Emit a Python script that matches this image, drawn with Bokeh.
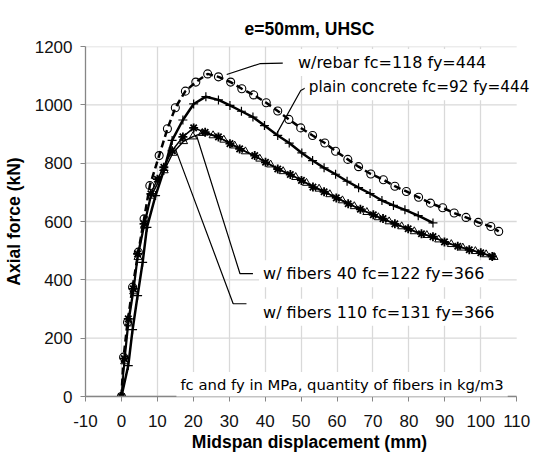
from bokeh.plotting import figure
from bokeh.models import Label, FixedTicker, Range1d
from bokeh.embed import file_html
from bokeh.resources import INLINE

# Midspan displacement (mm) and axial force (kN) for each specimen
rebar_x = [0, 0.6, 1.7, 3.1, 4.7, 6.3, 7.9, 10.5, 12.8, 15.0, 17.8, 20.7, 24.0, 27.0,
           30.4, 33.5, 36.8, 40.3, 43.5, 46.6, 49.9, 53.2, 56.6, 59.6, 63.0, 66.0,
           69.4, 72.9, 76.1, 79.3, 82.7, 86.0, 89.4, 92.6, 95.9, 99.3, 102.8, 105.0]
rebar_y = [0, 135, 255, 375, 495, 609, 723, 826, 918, 990, 1047, 1078, 1106, 1096,
           1078, 1055, 1034, 1007, 979, 950, 921, 895, 869, 841, 813, 788,
           763, 743, 721, 703, 683, 663, 647, 629, 614, 597, 583, 566]

plain_x = [0, 1.9, 3.1, 4.5, 5.9, 7.1, 9.5, 11.8, 14.1, 17.1, 20.1, 23.5, 27.0, 30.2,
           33.4, 36.6, 39.8, 43.5, 46.7, 50.2, 53.2, 56.4, 59.6, 62.8, 66.0, 69.2,
           72.5, 75.7, 78.9, 82.6, 86.7]
plain_y = [0, 106, 229, 346, 460, 580, 689, 775, 878, 948, 1003, 1028, 1017, 998,
           978, 958, 929, 895, 869, 835, 809, 784, 762, 738, 716, 696,
           672, 655, 640, 620, 595]

fib40_x = [0, 0.9, 2.0, 3.4, 4.6, 6.4, 8.3, 11.9, 14.3, 17.3, 19.9, 22.5, 25.5, 28.5,
           31.5, 34.5, 38.5, 41.5, 45.0, 48.5, 51.5, 55.0, 58.0, 61.5, 64.8, 68.3,
           71.5, 74.5, 78.0, 81.5, 85.0, 88.3, 91.8, 95.0, 98.5, 101.5, 103.7]
fib40_y = [0, 120, 250, 360, 478, 585, 688, 775, 835, 875, 891, 903, 895, 880,
           860, 840, 815, 795, 772, 752, 732, 712, 693, 672, 652, 632,
           614, 600, 583, 566, 553, 538, 522, 510, 498, 487, 478]

fib110_x = [0, 0.8, 1.9, 3.3, 4.5, 6.3, 8.2, 10.0, 11.8, 14.1, 17.1, 20.1, 23.3, 27.0,
            30.2, 32.9, 37.1, 40.1, 43.5, 47.0, 50.1, 53.3, 56.4, 59.8, 63.1, 66.5,
            70.1, 72.8, 76.1, 79.8, 83.5, 86.7, 89.9, 93.6, 96.8, 100.0, 103.2]
fib110_y = [0, 130, 266, 369, 489, 592, 695, 745, 786, 843, 890, 921, 906, 890,
            867, 849, 826, 803, 780, 761, 741, 718, 702, 681, 661, 642,
            623, 610, 592, 575, 558, 548, 530, 515, 503, 493, 480]

x_ticks = list(range(-10, 111, 10))
y_ticks = list(range(0, 1201, 200))
x_min, x_max = -10, 110

# Callout texts and their leader lines (data units)
rebar_label = "w/rebar fc=118 fy=444"
plain_label = "plain concrete fc=92 fy=444"
fib40_label = "w/ fibers 40 fc=122 fy=366"
fib110_label = "w/ fibers 110 fc=131 fy=366"
note_label = "fc and fy in MPa, quantity of fibers in kg/m3"

rebar_leader_x = [29.3, 38.5, 44.9]
rebar_leader_y = [1104, 1141, 1143]
plain_leader_x = [43.3, 49.9, 51.6]
plain_leader_y = [903, 1049, 1060]
fib40_leader_x = [20.9, 33.0, 36.6]
fib40_leader_y = [895, 421, 421]
fib110_leader_x = [15.2, 31.1, 34.8]
fib110_leader_y = [843, 318, 318]

# The plot frame runs a little past the last tick so callouts can reach the edge
p = figure(width=533, height=455, output_backend="svg", toolbar_location=None,
           x_range=Range1d(x_min, x_max + 4.68), y_range=Range1d(0, 1200),
           min_border_left=81, min_border_right=0, min_border_top=46,
           min_border_bottom=59)
p.outline_line_color = None
p.background_fill_color = "white"
p.border_fill_color = "white"

p.title.text = "e=50mm, UHSC"
p.title.align = "center"
p.title.offset = -21
p.title.standoff = 15
p.title.text_font = "Liberation Sans"
p.title.text_font_size = "17.5px"
p.title.text_font_style = "bold"
p.title.text_color = "black"

for ax, ticks in ((p.xaxis, x_ticks), (p.yaxis, y_ticks)):
    ax.ticker = FixedTicker(ticks=ticks)
    ax.axis_line_color = "#868686"
    ax.axis_line_width = 1.3
    ax.major_tick_line_color = "#868686"
    ax.major_tick_out = 5
    ax.major_tick_in = 0
    ax.minor_tick_line_color = None
    ax.major_label_text_font = "Liberation Sans"
    ax.major_label_text_font_size = "17px"
    ax.major_label_text_color = "#111111"
    ax.axis_label_text_font = "Liberation Sans"
    ax.axis_label_text_font_size = "17.5px"
    ax.axis_label_text_font_style = "bold"
    ax.axis_label_text_color = "black"

p.xaxis.bounds = (x_min, x_max)
p.xaxis.major_label_overrides = {t: str(t) for t in x_ticks}
p.xaxis.axis_label = "Midspan displacement (mm)"
p.yaxis.axis_label = "Axial force (kN)"
p.xaxis.major_label_standoff = 13
p.yaxis.major_label_standoff = 8
p.xaxis.axis_label_standoff = 2
p.yaxis.axis_label_standoff = 8

# Gridlines: vertical from the ticker, horizontal stopped at the last x tick
p.xgrid.ticker = FixedTicker(ticks=[t for t in x_ticks if x_min < t < x_max])
p.xgrid.grid_line_color = "#d9d9d9"
p.xgrid.grid_line_width = 1.3
p.ygrid.visible = False
p.segment(x0=[x_min] * len(y_ticks), x1=[x_max] * len(y_ticks), y0=y_ticks, y1=y_ticks,
          line_color="#d9d9d9", line_width=1.3)

# Curves
p.line(rebar_x, rebar_y, line_color="black", line_width=2.5, line_dash="7 4")
p.scatter(rebar_x, rebar_y, marker="circle", size=8, fill_color=None,
          line_color="black", line_width=1.1)

p.line(plain_x, plain_y, line_color="black", line_width=2.5)
p.scatter(plain_x, plain_y, marker="cross", size=9, line_color="black", line_width=1.2)

p.line(fib40_x, fib40_y, line_color="black", line_width=1.5)
p.scatter(fib40_x, fib40_y, marker="triangle", size=8, fill_color=None,
          line_color="black", line_width=1.0)

p.line(fib110_x, fib110_y, line_color="black", line_width=1.5)
p.scatter(fib110_x, fib110_y, marker="asterisk", size=9, line_color="black", line_width=1.8)

# Leader lines
for lx, ly in ((rebar_leader_x, rebar_leader_y), (plain_leader_x, plain_leader_y),
               (fib40_leader_x, fib40_leader_y), (fib110_leader_x, fib110_leader_y)):
    p.line(lx, ly, line_color="black", line_width=1.2)


def callout(x, y, text, size="16px"):
    p.add_layout(Label(x=x, y=y, text=text, text_font="DejaVu Sans",
                       text_font_size=size, text_color="black",
                       text_baseline="middle", text_align="left",
                       background_fill_color="white", padding=4))


callout(48.0, 1145, rebar_label)
callout(51.0, 1060, plain_label, size="15.3px")
callout(38.3, 421, fib40_label)
callout(38.3, 289, fib110_label)
callout(15.3, 41, note_label, size="14.8px")

open("out.html", "w").write(file_html(p, INLINE))
